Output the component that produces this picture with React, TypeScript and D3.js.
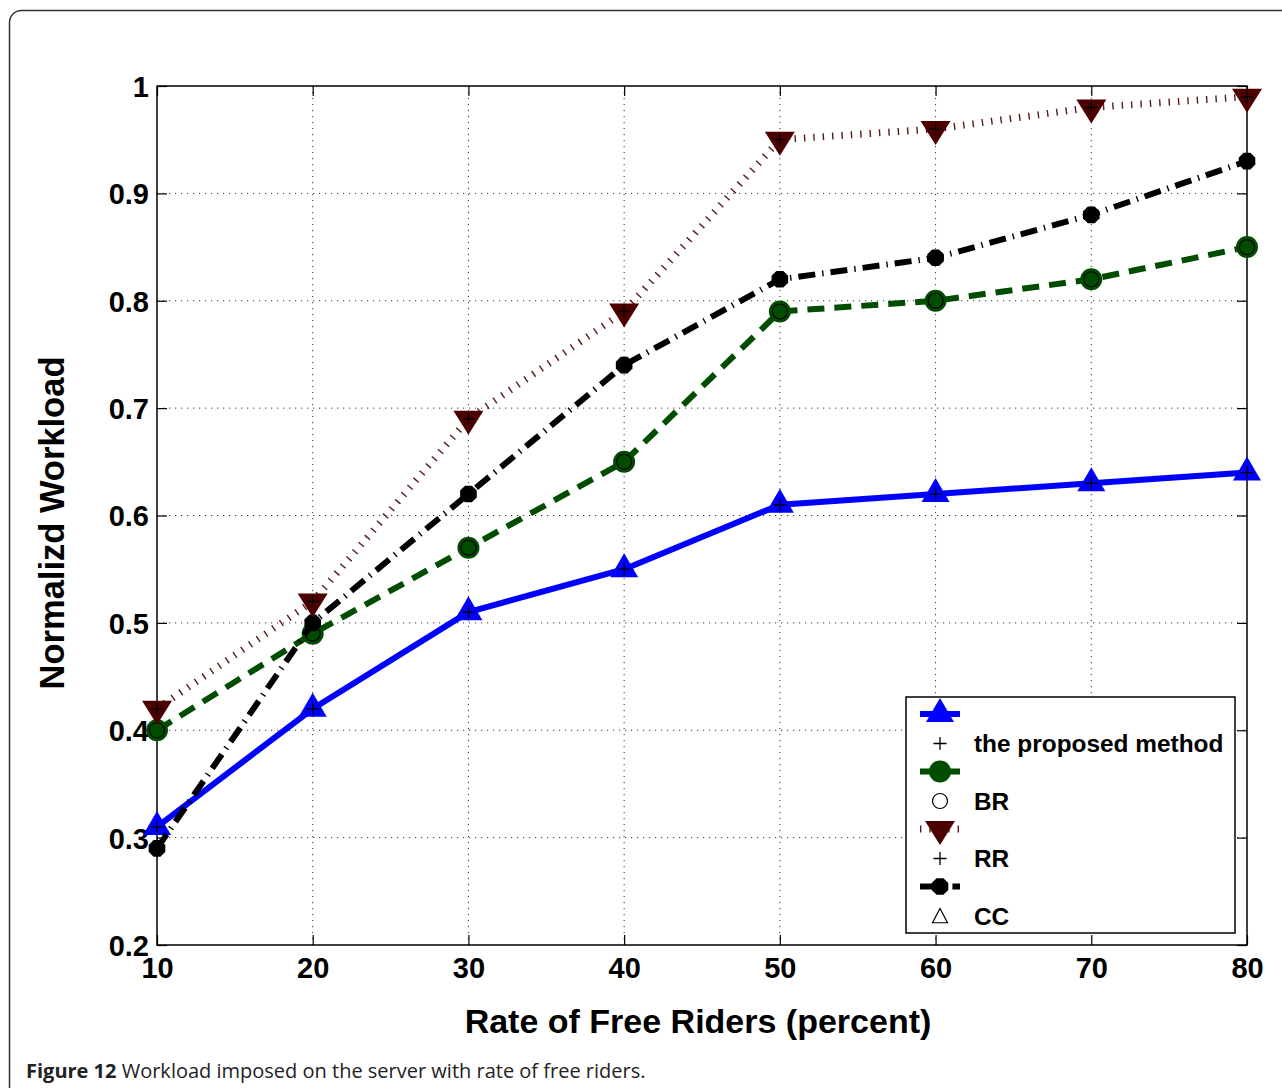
import { useEffect, useRef } from "react";
import * as d3 from "d3";

const rates = [10, 20, 30, 40, 50, 60, 70, 80];
const proposed = [0.31, 0.42, 0.51, 0.55, 0.61, 0.62, 0.63, 0.64];
const br = [0.4, 0.49, 0.57, 0.65, 0.79, 0.8, 0.82, 0.85];
const rr = [0.42, 0.52, 0.69, 0.79, 0.95, 0.96, 0.98, 0.99];
const cc = [0.29, 0.5, 0.62, 0.74, 0.82, 0.84, 0.88, 0.93];
const yTicks = [0.2, 0.3, 0.4, 0.5, 0.6, 0.7, 0.8, 0.9, 1];
const legendLabels = ["the proposed method", "BR", "RR", "CC"];

type MarkerKind = "tri-up" | "circle" | "tri-down" | "octagon";

interface SeriesDef {
	values: number[];
	color: string;
	width: number;
	dash: string | null;
	marker: MarkerKind;
	inner: "plus" | "ring" | "tri";
}

const seriesDefs: SeriesDef[] = [
	{ values: proposed, color: "#0000ff", width: 6, dash: null, marker: "tri-up", inner: "plus" },
	{ values: br, color: "#004d00", width: 6, dash: "17 10", marker: "circle", inner: "ring" },
	{ values: rr, color: "#5a1a1a", width: 7, dash: "1.4 8", marker: "tri-down", inner: "plus" },
	{ values: cc, color: "#000000", width: 6, dash: "17 7 1.4 7", marker: "octagon", inner: "tri" }
];

const FONT = "'Liberation Sans', Arial, Helvetica, sans-serif";

const drawMarker = (g: d3.Selection<SVGGElement, unknown, null, undefined>, kind: MarkerKind, color: string) => {
	if (kind === "tri-up") {
		g.append("path").attr("d", "M0,-16L14,8L-14,8Z").attr("fill", color);
	} else if (kind === "tri-down") {
		g.append("path").attr("d", "M0,16L15,-8L-15,-8Z").attr("fill", "#4d0000");
	} else if (kind === "circle") {
		g.append("circle").attr("r", 11).attr("fill", color);
	} else {
		const pts = d3.range(8).map((i) => {
			const a = (Math.PI / 8) * (2 * i + 1);
			return [9 * Math.cos(a), 9 * Math.sin(a)];
		});
		g.append("path").attr("d", `M${pts.map((p) => p.join(",")).join("L")}Z`).attr("fill", color);
	}
};

const drawInner = (g: d3.Selection<SVGGElement, unknown, null, undefined>, kind: "plus" | "ring" | "tri", scale = 1) => {
	if (kind === "plus") {
		const a = 6.5 * scale;
		g.append("path")
			.attr("d", `M${-a},0H${a}M0,${-a}V${a}`)
			.attr("stroke", "#000")
			.attr("stroke-width", 1.3)
			.attr("fill", "none");
	} else if (kind === "ring") {
		g.append("circle").attr("r", 7.5 * scale).attr("fill", "none").attr("stroke", "#000").attr("stroke-width", 1.2);
	} else {
		const s = 7.5 * scale;
		g.append("path")
			.attr("d", `M0,${-s}L${s},${s * 0.9}L${-s},${s * 0.9}Z`)
			.attr("fill", "none")
			.attr("stroke", "#000")
			.attr("stroke-width", 1.2);
	}
};

const App = () => {
	const ref = useRef<SVGSVGElement>(null);

	useEffect(() => {
		if (!ref.current) return;
		const svg = d3.select(ref.current);
		svg.selectAll("*").remove();

		const width = 1282;
		const height = 1088;
		const margin = { top: 86, right: 35, bottom: 143, left: 157 };
		const innerWidth = width - margin.left - margin.right;
		const innerHeight = height - margin.top - margin.bottom;

		// outer frame
		svg.append("rect")
			.attr("x", 9.5)
			.attr("y", 10.5)
			.attr("width", 1300)
			.attr("height", 1100)
			.attr("rx", 12)
			.attr("fill", "#fff")
			.attr("stroke", "#333")
			.attr("stroke-width", 1.5);

		const plot = svg.append("g").attr("transform", `translate(${margin.left},${margin.top})`);

		const x = d3.scaleLinear().domain([10, 80]).range([0, innerWidth]);
		const y = d3.scaleLinear().domain([0.2, 1]).range([innerHeight, 0]);

		plot.append("rect").attr("width", innerWidth).attr("height", innerHeight).attr("fill", "#fff");

		// grid
		const grid = plot.append("g").attr("stroke", "#333").attr("stroke-width", 1).attr("stroke-dasharray", "1.2 4.8");
		grid.selectAll("line.gx")
			.data(rates.slice(1, -1))
			.join("line")
			.attr("class", "gx")
			.attr("x1", (d) => x(d))
			.attr("x2", (d) => x(d))
			.attr("y1", 0)
			.attr("y2", innerHeight);
		grid.selectAll("line.gy")
			.data(yTicks.slice(1, -1))
			.join("line")
			.attr("class", "gy")
			.attr("x1", 0)
			.attr("x2", innerWidth)
			.attr("y1", (d) => y(d))
			.attr("y2", (d) => y(d));

		// axes with inward ticks on all sides
		const styleAxis = (g: d3.Selection<SVGGElement, unknown, null, undefined>) => {
			g.select(".domain").remove();
			g.selectAll(".tick line").attr("stroke", "#000").attr("stroke-width", 1.2);
		};

		const bottom = plot
			.append("g")
			.attr("transform", `translate(0,${innerHeight})`)
			.call(d3.axisBottom(x).tickValues(rates).tickSize(-10).tickPadding(12).tickFormat((d) => `${d}`));
		styleAxis(bottom);
		bottom.selectAll("text")
			.attr("fill", "#000")
			.attr("font-family", FONT)
			.attr("font-weight", "bold")
			.attr("font-size", 29)
			.attr("dy", "0.71em");

		const left = plot
			.append("g")
			.call(d3.axisLeft(y).tickValues(yTicks).tickSize(-10).tickPadding(8).tickFormat((d) => `${d}`));
		styleAxis(left);
		left.selectAll("text")
			.attr("fill", "#000")
			.attr("font-family", FONT)
			.attr("font-weight", "bold")
			.attr("font-size", 29)
			.attr("dy", "0.36em");

		const top = plot.append("g").call(d3.axisTop(x).tickValues(rates).tickSize(-10).tickFormat(() => ""));
		styleAxis(top);
		const right = plot
			.append("g")
			.attr("transform", `translate(${innerWidth},0)`)
			.call(d3.axisRight(y).tickValues(yTicks).tickSize(-10).tickFormat(() => ""));
		styleAxis(right);

		plot.append("rect")
			.attr("width", innerWidth)
			.attr("height", innerHeight)
			.attr("fill", "none")
			.attr("stroke", "#000")
			.attr("stroke-width", 1.5);

		// series
		const line = d3
			.line<number>()
			.x((_, i) => x(rates[i]))
			.y((d) => y(d));

		const drawOrder = [0, 1, 3, 2];
		drawOrder.forEach((si) => {
			const s = seriesDefs[si];
			plot.append("path")
				.datum(s.values)
				.attr("d", line)
				.attr("fill", "none")
				.attr("stroke", s.color)
				.attr("stroke-width", s.width)
				.attr("stroke-dasharray", s.dash)
				.attr("stroke-linejoin", "round");
			s.values.forEach((v, i) => {
				const g = plot.append("g").attr("transform", `translate(${x(rates[i])},${y(v)})`);
				drawMarker(g, s.marker, s.color);
				if (s.inner !== "tri") drawInner(g, s.inner);
			});
		});

		// legend
		const legend = svg.append("g").attr("transform", "translate(906,697)");
		legend.append("rect")
			.attr("width", 329)
			.attr("height", 236)
			.attr("fill", "#fff")
			.attr("stroke", "#000")
			.attr("stroke-width", 1.5);

		seriesDefs.forEach((s, i) => {
			const lineY = 17 + i * 57.5;
			const textY = lineY + 29.5;
			legend.append("line")
				.attr("x1", 14)
				.attr("x2", 54)
				.attr("y1", lineY)
				.attr("y2", lineY)
				.attr("stroke", s.color)
				.attr("stroke-width", s.width)
				.attr("stroke-dasharray", s.dash);
			const mg = legend.append("g").attr("transform", `translate(34,${lineY})`);
			drawMarker(mg, s.marker, s.color);
			const ig = legend.append("g").attr("transform", `translate(34,${textY})`);
			drawInner(ig, s.inner);
			legend.append("text")
				.attr("x", 68)
				.attr("y", textY)
				.attr("dy", "0.36em")
				.attr("font-family", FONT)
				.attr("font-weight", "bold")
				.attr("font-size", 24.4)
				.attr("fill", "#000")
				.text(legendLabels[i]);
		});

		// axis titles
		svg.append("text")
			.attr("x", 698)
			.attr("y", 1033)
			.attr("text-anchor", "middle")
			.attr("font-family", FONT)
			.attr("font-weight", "bold")
			.attr("font-size", 34)
			.attr("fill", "#000")
			.text("Rate of Free Riders (percent)");

		svg.append("text")
			.attr("transform", `translate(64,523) rotate(-90)`)
			.attr("text-anchor", "middle")
			.attr("font-family", FONT)
			.attr("font-weight", "bold")
			.attr("font-size", 34.5)
			.attr("fill", "#000")
			.text("Normalizd Workload");

		// caption
		const caption = svg.append("text")
			.attr("x", 26)
			.attr("y", 1078)
			.attr("font-family", "'Open Sans', 'Noto Sans', sans-serif")
			.attr("font-size", 20)
			.attr("fill", "#222");
		caption.append("tspan").attr("font-weight", "bold").text("Figure 12");
		caption.append("tspan").text(" Workload imposed on the server with rate of free riders.");
	}, []);

	return (
		<svg
			ref={ref}
			width={1282}
			height={1088}
			style={{ position: "absolute", left: 0, top: 0, background: "#fff" }}
		/>
	);
};

export default App;
